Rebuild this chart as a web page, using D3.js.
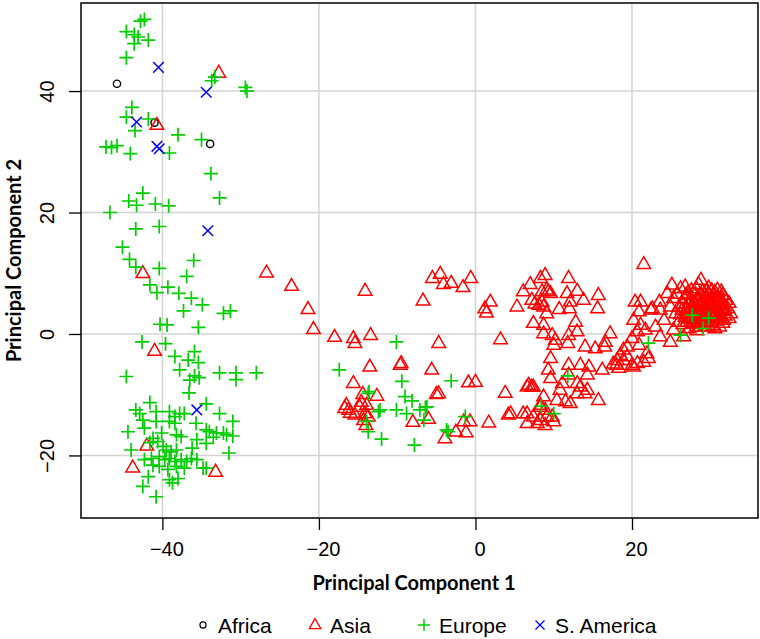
<!DOCTYPE html>
<html><head><meta charset="utf-8">
<script src="https://cdn.jsdelivr.net/npm/d3@7"></script>
<style>body{margin:0;background:#fff}svg{display:block}</style>
</head><body>
<svg id="chart" width="760" height="639"></svg>
<script>
// ---------- data ----------
const xTicks = [-40, -20, 0, 20];
const yTicks = [-20, 0, 20, 40];
const xTitle = "Principal Component 1";
const yTitle = "Principal Component 2";
const groups = ["Africa", "Asia", "Europe", "S. America"];

const africa = [[-45.8,41.2],[-41.0,34.8],[-33.9,31.3]];

const southAmerica = [[-40.5,43.9],[-34.4,39.8],[-43.3,34.9],[-40.7,30.9],[-40.4,30.5],[-34.2,17.0],[-35.6,-12.5]];

const asia = [
 [-32.8,43.0],[-40.7,34.4],[-42.5,10.0],[-26.7,10.1],[-41.0,-2.8],[-42.0,-18.4],[-43.8,-22.0],[-33.2,-22.7],
 [-23.5,7.9],[-21.4,4.1],[-20.7,0.8],[-14.1,7.1],[-18.0,-0.5],[-15.6,-0.7],[-15.4,-1.5],[-13.4,-0.2],[-13.5,-5.4],
 [-15.6,-8.1],[-9.5,-4.8],[-9.6,-5.1],[-5.6,-5.9],[-4.7,-1.5],[-6.7,5.5],[-5.5,9.2],[-4.5,9.9],[-4.1,8.2],[-3.1,8.4],
 [-1.6,7.7],[-0.6,9.2],[1.9,5.3],[1.2,4.2],[1.4,3.5],[3.2,-0.9],[-14.4,-9.9],[-12.6,-10.2],[-0.9,-8.0],[0.0,-7.9],
 [-5.0,-9.9],[-4.7,-9.8],[3.8,-9.7],[-16.5,-11.7],[-16.7,-12.2],[-16.2,-12.5],[-14.8,-12.0],[-13.9,-11.7],[-14.1,-13.1],
 [-13.7,-13.6],[-15.4,-13.3],[-14.3,-14.2],[-14.0,-15.0],[-8.0,-14.5],[-6.0,-14.0],[-3.9,-17.2],[-2.5,-16.1],[-1.2,-16.2],
 [-1.5,-14.4],[-0.7,-14.4],[1.7,-14.6],[4.2,-13.3],[4.5,-13.1],[-16.0,-13.0],[-14.6,-11.2],
 [21.5,11.5],[8.9,9.7],[8.3,9.2],[7.0,8.2],[6.1,7.0],[5.3,4.5],[7.2,5.6],[7.6,5.0],[8.1,4.8],[8.5,5.3],[8.7,4.5],
 [9.1,3.4],[9.3,7.0],[9.6,6.7],[8.5,7.0],[9.1,7.3],[11.9,9.2],[10.7,4.1],[12.0,4.2],[11.7,6.7],[13.0,7.1],[13.8,5.6],
 [12.1,5.3],[15.7,6.4],[15.6,4.2],
 [7.4,1.8],[8.7,1.5],[8.7,0.1],[9.8,-0.2],[10.2,-1.0],[10.0,-1.8],[11.9,-0.2],[11.8,-1.5],[12.8,2.0],[13.0,0.4],
 [14.0,-2.1],[15.3,-2.4],[16.6,-1.3],[16.5,-2.1],[17.2,0.1],[18.1,-4.3],[18.5,-3.5],[18.9,-2.6],[19.4,-2.1],[18.0,-5.1],
 [18.3,-5.6],[20.0,-5.1],[17.6,-4.9],
 [20.4,5.3],[20.9,3.7],[20.2,2.3],[21.1,1.5],[22.4,4.0],[23.6,4.0],[24.1,2.3],[23.0,1.2],[21.7,0.7],[20.7,0.4],[20.0,-0.7],
 [20.9,-1.8],[21.9,-3.2],[22.1,-4.0],[21.5,-4.6],[20.7,-4.8],[20.2,-5.4],[19.4,-3.7],[18.9,-4.3],[22.6,4.2],[21.1,5.3],
 [23.6,-0.4],[24.9,-1.3],[26.6,-0.4],[25.3,0.7],[26.0,2.0],[25.6,3.4],[24.9,4.5],[25.3,5.9],[25.1,8.1],[26.8,7.8],
 [28.5,8.2],[27.1,6.7],[29.8,6.7],[31.6,6.4],[32.4,5.1],[32.6,3.4],[28.8,8.9],[26.2,7.5],[24.5,6.7],[23.5,5.3],
 [9.6,-4.0],[11.9,-5.1],[13.4,-5.1],[14.5,-5.4],[16.2,-5.9],[14.3,-6.7],[13.0,-8.1],[13.4,-8.7],[14.0,-9.8],[14.3,-9.2],
 [11.9,-6.7],[11.1,-8.1],[10.8,-9.2],[10.4,-10.9],[11.5,-11.1],[12.1,-11.4],[13.0,-9.8],[15.7,-10.9],[9.6,-7.3],[9.3,-5.9],
 [8.7,-10.3],[8.3,-11.7],[8.3,-12.0],[8.9,-12.5],[6.8,-8.4],[7.2,-8.7],[6.6,-8.7],[7.4,-8.7],[6.1,-13.1],[6.6,-14.7],
 [7.4,-13.6],[8.3,-14.2],[9.1,-13.6],[8.9,-15.0],[9.8,-13.6],[6.6,-13.1],[10.0,-14.4],[7.9,-14.7],
 [26.5,5.0],[27.0,4.2],[27.4,5.6],[27.8,3.5],[28.1,4.8],[28.4,6.0],[28.6,3.0],[28.9,5.2],[29.2,4.0],[29.5,6.2],
 [29.7,2.8],[30.0,4.6],[30.3,5.5],[30.5,3.4],[30.8,4.1],[31.0,6.0],[31.3,2.9],[31.5,4.8],[31.8,3.8],[27.2,2.5],
 [27.9,1.8],[28.6,1.6],[29.3,1.2],[30.1,1.9],[30.8,2.2],[31.6,1.8],[26.2,3.2],[26.9,6.4],[27.6,7.2],[28.2,7.5],
 [29.0,7.0],[29.8,7.6],[30.6,6.9],[31.4,7.0],[32.0,5.6],[32.2,4.2],[32.4,2.6],[26.0,4.5],[26.5,1.6],[27.3,0.9],
 [28.3,0.6],[29.1,2.2],[30.6,0.9],[31.2,1.2],[25.8,6.6],[28.0,2.4],[29.4,3.3],[30.2,3.0],[29.9,5.0],[28.7,4.4],
 [27.6,4.4],[31.0,5.3],[31.9,3.0],[26.8,2.8],[30.4,6.3],[28.3,5.4],[29.6,2.0],[31.5,4.0],
 [27.1,3.7],[27.5,3.0],[28.0,4.1],[28.5,3.6],[28.9,3.4],[29.3,4.7],[29.8,4.2],[30.1,3.6],[30.6,4.8],[30.9,3.0],
 [31.2,3.6],[27.3,4.9],[27.9,5.1],[28.6,5.8],[29.2,5.6],[29.7,5.5],[30.2,6.0],[30.7,5.6],[31.3,5.9],[31.8,4.5],
 [27.0,2.0],[27.7,2.7],[28.3,2.0],[28.9,2.6],[29.6,2.5],[30.3,2.4],[31.0,2.5],[31.7,2.3],[26.4,4.0],[26.7,5.8],
 [28.1,6.6],[28.9,6.4],[29.5,7.0],[30.2,7.2],[30.9,7.3],[28.2,1.2],[29.8,1.2],[30.4,1.5]
];

const europe = [
 [-42.8,51.5],[-42.3,51.8],[-44.6,49.8],[-43.6,49.3],[-43.1,48.9],[-41.8,48.4],[-43.6,47.8],[-44.6,45.5],[-33.3,42.3],
 [-33.7,41.7],[-29.4,40.6],[-29.2,40.0],[-43.9,37.3],[-44.6,35.7],[-41.8,35.4],[-43.5,33.5],[-38.0,32.8],[-35.0,32.0],
 [-47.2,30.8],[-46.5,30.7],[-45.8,31.0],[-44.1,29.7],[-39.1,29.8],[-33.8,26.4],
 [-32.7,22.4],[-42.5,23.2],[-44.3,21.9],[-43.3,21.2],[-40.9,21.4],[-39.2,21.1],[-46.7,20.0],[-43.4,17.3],[-40.4,17.7],
 [-45.1,14.3],[-44.2,12.3],[-43.4,11.0],[-40.4,10.8],[-36.0,12.1],[-36.9,9.5],[-41.6,8.1],[-40.7,6.8],[-39.3,7.7],
 [-37.9,6.7],[-36.3,5.9],[-34.9,4.8],[-37.3,3.8],[-32.2,3.4],[-31.3,3.8],[-40.3,1.6],[-39.4,1.5],[-35.4,1.1],
 [-42.6,-1.3],[-39.6,-1.6],[-35.9,-2.9],[-38.4,-3.7],[-36.7,-4.3],[-35.4,-4.7],[-37.8,-5.9],[-44.6,-7.0],[-35.9,-6.9],
 [-35.3,-7.2],[-36.5,-7.6],[-32.7,-6.4],[-30.6,-6.4],[-30.6,-7.5],[-28.0,-6.4],[-36.6,-9.7],
 [-41.6,-11.3],[-43.4,-12.5],[-42.9,-13.1],[-40.8,-12.8],[-39.1,-12.8],[-38.4,-13.6],[-37.8,-13.1],[-37.2,-13.1],
 [-34.4,-11.5],[-32.7,-13.1],[-31.0,-14.4],[-42.5,-14.2],[-40.8,-14.4],[-39.1,-14.4],[-38.4,-14.7],[-35.7,-14.7],
 [-44.4,-16.1],[-42.3,-15.5],[-40.1,-16.3],[-38.2,-16.6],[-37.6,-16.9],[-34.4,-15.8],[-34.0,-16.1],[-33.1,-16.3],
 [-32.2,-16.3],[-31.8,-16.6],[-31.0,-16.8],[-35.6,-17.4],[-34.4,-18.0],[-41.6,-17.9],[-41.2,-17.2],[-40.6,-17.7],
 [-39.9,-18.5],[-39.5,-19.1],[-38.9,-19.4],[-38.2,-19.1],[-44.0,-19.1],[-42.3,-20.7],[-41.4,-20.5],[-40.4,-20.2],
 [-39.7,-20.7],[-39.1,-20.5],[-38.4,-21.0],[-37.6,-20.7],[-36.9,-21.0],[-36.3,-20.5],[-35.6,-20.7],[-34.8,-22.1],
 [-34.4,-22.1],[-41.2,-21.6],[-40.4,-21.8],[-39.3,-22.3],[-38.2,-21.8],[-37.2,-22.1],[-31.5,-19.6],[-41.8,-23.5],
 [-39.1,-24.0],[-38.7,-24.5],[-38.0,-23.8],[-42.5,-25.1],[-40.8,-26.8],[-36.2,-18.8],[-33.5,-17.0],
 [-17.4,-5.9],[-10.1,-1.3],[-9.4,-7.8],[-3.1,-7.7],[-13.7,-9.8],[-9.0,-10.3],[-8.1,-11.0],[-10.1,-12.5],[-8.8,-13.1],
 [-12.4,-12.8],[-7.1,-12.5],[-6.4,-12.1],[-6.2,-12.0],[-6.6,-14.2],[-13.9,-14.4],[-13.7,-16.1],[-12.0,-17.3],
 [-7.8,-18.3],[-3.5,-16.1],[-1.3,-13.6],[-3.7,-15.8],[-12.2,-12.5],[-13.6,-9.5],
 [11.8,-6.9],[8.4,-11.9],[10.0,-13.1],[22.1,-1.5],[26.2,-0.2],[27.7,3.1],[29.8,2.6],[29.1,0.9]
];

// ---------- drawing ----------
const svg = d3.select("#chart");
const x = d3.scaleLinear().domain([-50.4, 36.1]).range([81, 758]);
const y = d3.scaleLinear().domain([-30.3, 54.5]).range([518, 3]);
const tickFont = "'Liberation Sans', Arial, sans-serif";
const titleFont = "Lato, 'Open Sans', sans-serif";

// grid
const grid = svg.append("g");
grid.selectAll(".gx").data(xTicks).join("line")
  .attr("x1", d => x(d)).attr("x2", d => x(d)).attr("y1", y.range()[0]).attr("y2", y.range()[1])
  .attr("stroke", "#d3d3d3").attr("stroke-width", 1.5);
grid.selectAll(".gy").data(yTicks).join("line")
  .attr("y1", d => y(d)).attr("y2", d => y(d)).attr("x1", x.range()[0]).attr("x2", x.range()[1])
  .attr("stroke", "#d3d3d3").attr("stroke-width", 1.5);

// symbols
const triPath = "M0,-7.5L6.8,4.3L-6.8,4.3Z";
const plusPath = "M-7,0H7M0,-7V7";
const crossPath = "M-5.3,-5.3L5.3,5.3M-5.3,5.3L5.3,-5.3";
const colors = {Africa: "#000000", Asia: "#ff0000", Europe: "#00cd00", "S. America": "#0000ff"};

function drawSymbol(g, kind, color) {
  if (kind === "Africa") {
    g.append("circle").attr("r", 3.6).attr("fill", "none").attr("stroke", color).attr("stroke-width", 1.4);
  } else {
    const p = kind === "Asia" ? triPath : kind === "Europe" ? plusPath : crossPath;
    g.append("path").attr("d", p).attr("fill", "none").attr("stroke", color)
      .attr("stroke-width", kind === "Europe" ? 1.7 : 1.5);
  }
}

const layers = [["Africa", africa], ["Asia", asia], ["Europe", europe], ["S. America", southAmerica]];
layers.forEach(([name, pts]) => {
  const g = svg.append("g");
  g.selectAll("g").data(pts).join("g")
    .attr("transform", d => `translate(${x(d[0])},${y(d[1])})`)
    .each(function () { drawSymbol(d3.select(this), name, colors[name]); });
});

// box
svg.append("rect").attr("x", 81).attr("y", 3).attr("width", 677).attr("height", 515)
  .attr("fill", "none").attr("stroke", "#000").attr("stroke-width", 1.5);

// axes
const xAxis = svg.append("g").attr("transform", "translate(0,518)")
  .call(d3.axisBottom(x).tickValues(xTicks).tickSize(12).tickPadding(12).tickFormat(d3.format("d")));
xAxis.select(".domain").remove();
xAxis.selectAll("line").attr("stroke-width", 1.3);
xAxis.selectAll("text").attr("font-family", tickFont).attr("font-size", 20).attr("fill", "#000")
  .attr("dx", 4);

const yAxis = svg.append("g").attr("transform", "translate(81,0)")
  .call(d3.axisLeft(y).tickValues(yTicks).tickSize(12).tickFormat(d3.format("d")));
yAxis.select(".domain").remove();
yAxis.selectAll("line").attr("stroke-width", 1.3);
yAxis.selectAll("text").attr("font-family", tickFont).attr("font-size", 20).attr("fill", "#000")
  .attr("x", null).attr("dy", null).attr("text-anchor", "middle")
  .attr("transform", "translate(-27,0) rotate(-90)");

// titles
svg.append("text").attr("x", 414).attr("y", 590)
  .attr("text-anchor", "middle").attr("font-family", titleFont).attr("font-weight", "bold")
  .attr("font-size", 20).text(xTitle);
svg.append("text").attr("transform", `translate(21,${(y.range()[0] + y.range()[1]) / 2}) rotate(-90)`)
  .attr("text-anchor", "middle").attr("font-family", titleFont).attr("font-weight", "bold")
  .attr("font-size", 20).text(yTitle);

// legend
const legendX = [203, 315, 424, 540];
const leg = svg.append("g");
groups.forEach((name, i) => {
  const g = leg.append("g").attr("transform", `translate(${legendX[i]},625)`);
  drawSymbol(g.append("g").attr("transform", "scale(0.85)"), name, colors[name]);
  g.append("text").attr("x", 15).attr("y", 7.5).attr("font-family", tickFont).attr("font-size", 21)
    .attr("textLength", null).text(name);
});
</script>
</body></html>
